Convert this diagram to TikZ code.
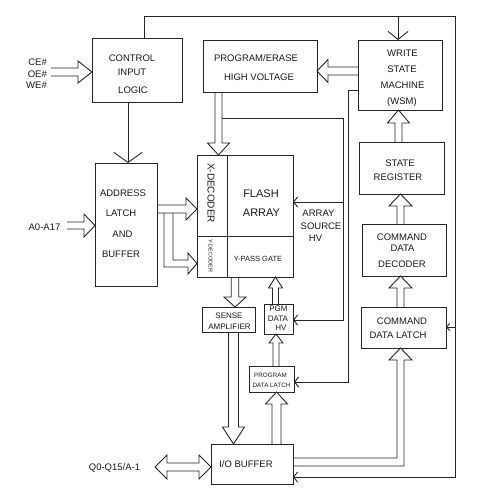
\documentclass[tikz,border=0pt]{standalone}
\usepackage{fontspec}
\setmainfont{Liberation Sans}
\usetikzlibrary{arrows.meta,calc}
% hollow (outline) arrow: #1 start, #2 tip, #3 shaft half width, #4 head half width, #5 head length
\newcommand{\fat}[5]{%
  \coordinate (fS) at #1;
  \coordinate (fE) at #2;
  \coordinate (fH) at ($(fE)!#5!(fS)$);
  \draw[ln] ($(fS)!#3!90:(fE)$) -- ($(fH)!#3!90:(fE)$) -- ($(fH)!#4!90:(fE)$) -- (fE)
    -- ($(fH)!#4!-90:(fE)$) -- ($(fH)!#3!-90:(fE)$) -- ($(fS)!#3!-90:(fE)$);
}
\begin{document}
\begin{tikzpicture}[x=1pt,y=-1pt,
  ln/.style={draw=black!85, line width=0.9pt, line join=miter},
  blk/.style={draw=black!85, line width=0.9pt, anchor=north west, inner sep=0pt, outer sep=0pt},
  txt/.style={anchor=base, inner sep=0pt, font=\fontsize{9.5}{11}\selectfont, text=black!90},
  txs/.style={txt, font=\fontsize{8}{9}\selectfont},
  txx/.style={txt, font=\fontsize{6.3}{7}\selectfont},
  tarr/.style={ln, -{Straight Barb[length=4pt,width=10pt]}},
  sarr/.style={ln, -{Straight Barb[length=3pt,width=7pt]}},
  barbA/.style={ln, -{Straight Barb[length=10pt,width=28pt]}},
  barbB/.style={ln, -{Straight Barb[length=8pt,width=20pt]}}]
\useasboundingbox (0,0) rectangle (482,496);

% ---- blocks
\node[blk, minimum width=90pt, minimum height=64pt] (ctrl) at (92,38) {};
\node[blk, minimum width=114pt, minimum height=52pt] (pe) at (203,40) {};
\node[blk, minimum width=84pt, minimum height=70pt] (wsm) at (358,40) {};
\node[blk, minimum width=62pt, minimum height=123pt] (addr) at (95,163) {};
\node[blk, minimum width=30pt, minimum height=81pt] (xdec) at (197,155) {};
\node[blk, minimum width=66pt, minimum height=81pt] (farr) at (227,155) {};
\node[blk, minimum width=30pt, minimum height=41pt] (ydec) at (197,236) {};
\node[blk, minimum width=66pt, minimum height=41pt] (ypass) at (227,236) {};
\node[blk, minimum width=53pt, minimum height=25pt] (sense) at (202,307) {};
\node[blk, minimum width=29pt, minimum height=30pt] (pgmhv) at (264,304) {};
\node[blk, minimum width=45pt, minimum height=26pt] (pdl) at (249,366) {};
\node[blk, minimum width=82pt, minimum height=40pt] (io) at (211,444) {};
\node[blk, minimum width=85pt, minimum height=52pt] (sr) at (359,142) {};
\node[blk, minimum width=84pt, minimum height=52pt] (cdd) at (362,224) {};
\node[blk, minimum width=85pt, minimum height=41pt] (cdl) at (361,307) {};

% ---- texts
\node[txt] (t1) at (132,61) {CONTROL};
\node[txt] (t2) at (132,75) {INPUT};
\node[txt] (t3) at (133,93) {LOGIC};
\node[txt, anchor=base east] (ce) at (47,65) {CE\#};
\node[txt, anchor=base east] (oe) at (47,77) {OE\#};
\node[txt, anchor=base east] (we) at (47,88) {WE\#};
\node[txt] (t4) at (256,61) {PROGRAM/ERASE};
\node[txt] (t5) at (259,80) {HIGH VOLTAGE};
\node[txt] (t6) at (402.5,56) {WRITE};
\node[txt] (t7) at (402,72) {STATE};
\node[txt] (t8) at (402.5,88) {MACHINE};
\node[txt] (t9) at (402,104) {(WSM)};
\node[txt] (t10) at (123,196) {ADDRESS};
\node[txt] (t11) at (121,216) {LATCH};
\node[txt] (t12) at (122.5,237) {AND};
\node[txt] (t13) at (121,257) {BUFFER};
\node[txt] (a017) at (44.5,230.7) {A0-A17};
\node[inner sep=0pt, rotate=-90, font=\fontsize{10}{12}\selectfont, text=black!90] (t14) at (211,193) {X-DECODER};
\node[inner sep=0pt, rotate=-90, font=\fontsize{5.5}{6}\selectfont, text=black!90] (t15) at (210.5,256) {Y-DECODER};
\node[txt, font=\fontsize{11}{13}\selectfont] (t16) at (261,197) {FLASH};
\node[txt, font=\fontsize{11}{13}\selectfont] (t17) at (261.5,216) {ARRAY};
\node[txt, font=\fontsize{7.5}{9}\selectfont] (t18) at (258,261.7) {Y-PASS GATE};
\node[txt] (t19) at (318.5,216.7) {ARRAY};
\node[txt] (t20) at (321,229) {SOURCE};
\node[txt] (t21) at (315.5,241) {HV};
\node[txs] (t22) at (229,318.3) {SENSE};
\node[txs] (t23) at (229.5,329) {AMPLIFIER};
\node[txs] (t24) at (278.5,311.7) {PGM};
\node[txs] (t25) at (278,321.7) {DATA};
\node[txs] (t26) at (281,330.7) {HV};
\node[txx] (t27) at (270.5,377.3) {PROGRAM};
\node[txx] (t28) at (271.5,387.7) {DATA LATCH};
\node[txt] (t29) at (246,467.3) {I/O BUFFER};
\node[txt] (q015) at (114.5,470.7) {Q0-Q15/A-1};
\node[txt] (t30) at (400,166.7) {STATE};
\node[txt] (t31) at (398,180) {REGISTER};
\node[txt] (t32) at (402,240) {COMMAND};
\node[txt] (t33) at (402.5,251) {DATA};
\node[txt] (t34) at (402,267) {DECODER};
\node[txt] (t35) at (402,324.3) {COMMAND};
\node[txt] (t36) at (398,338.3) {DATA LATCH};

% ---- thin connectors
\coordinate (tr) at (455,16);
\coordinate (br) at (455,477);
\coordinate (wt) at (398,16);
\coordinate (cr) at (455,327);
\coordinate (jn) at (343,202);
\draw[tarr] ([xshift=52pt]ctrl.north west) |- (tr) -- (br) -- (br -| io.east);
\draw[barbB] (wt) -- (wt |- wsm.north);
\draw[sarr] (cr) -- (cr -| cdl.east);
\draw[barbA] ([xshift=-9pt]ctrl.south) -- ([xshift=2pt]addr.north);
\draw[tarr] ([yshift=-15pt]wsm.west) -- ++(-10,0) |- ([yshift=-3pt]pdl.east);
\draw[tarr] ($(pe.south west)+(19,26)$) -- ++(121,0) |- ([yshift=-1pt]pgmhv.east);
\draw[tarr] (jn) -- (jn -| farr.east);

% ---- hollow arrows
\fat{(51,72)}{(fS -| ctrl.west)}{4pt}{11pt}{14pt}
\fat{(67,225.5)}{(fS -| addr.west)}{3.5pt}{11.5pt}{11pt}
\fat{([yshift=15.5pt]addr.east)}{(fS -| xdec.west)}{4pt}{11pt}{11pt}
\draw[ln] (164,213) -- (164,267) -- (188,267) -- (188,274) -- (ydec.west |- 0,263.5)
  -- (188,253) -- (188,260) -- (173,260) -- (173,213);
\fat{([xshift=15.5pt]pe.south west)}{(fS |- xdec.north)}{3.5pt}{11pt}{12pt}
\fat{([yshift=4pt]wsm.west)}{(fS -| pe.east)}{4pt}{11.5pt}{11pt}
\fat{([xshift=-25pt]ypass.south)}{(fS |- sense.north)}{3.75pt}{11pt}{10pt}
\fat{([xshift=-3pt]pgmhv.north)}{(fS |- ypass.south)}{3pt}{7pt}{11pt}
\fat{([xshift=4.5pt]pdl.north)}{(fS |- pgmhv.south)}{3pt}{7pt}{9pt}
\fat{([xshift=24.5pt]io.north)}{(fS |- pdl.south)}{4.5pt}{11pt}{12pt}
\fat{([xshift=5pt]sense.south)}{(fS |- io.north)}{5pt}{11pt}{17pt}
\fat{([xshift=-3pt]cdl.north)}{(fS |- cdd.south)}{3.5pt}{11.5pt}{12pt}
\fat{([xshift=-3.5pt]cdd.north)}{(fS |- sr.south)}{3.5pt}{11.5pt}{12pt}
\fat{([xshift=-3pt]sr.north)}{(fS |- wsm.south)}{3.5pt}{11pt}{13pt}
\coordinate (cdlTip) at (400.5,348);
\draw[ln] ([yshift=6pt]io.east) -- (397,458) -- (397,360) -- (389,360) -- (cdlTip |- cdl.south)
  -- (412,360) -- (404,360) -- (404,466) -- ([yshift=-2pt]io.east);
\coordinate (qR) at ([yshift=-3pt]io.west);
\draw[ln] (155,467) -- (167,455) -- (167,463) -- (199,463) -- (199,455) -- (qR)
  -- (199,479) -- (199,471) -- (167,471) -- (167,479) -- cycle;
\end{tikzpicture}
\end{document}
